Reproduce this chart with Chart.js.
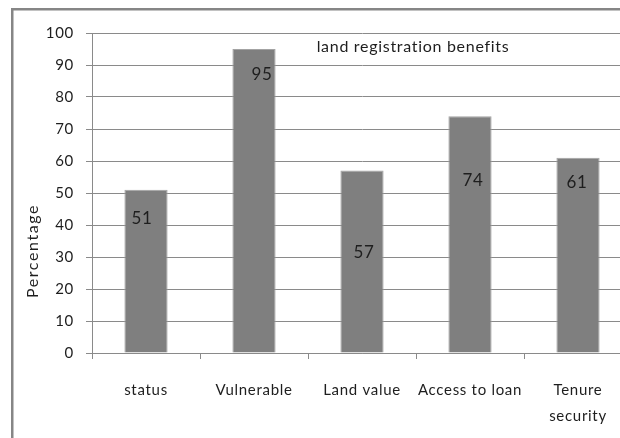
<!DOCTYPE html>
<html>
<head>
<meta charset="utf-8">
<script src="https://cdn.jsdelivr.net/npm/chart.js@4.4.1/dist/chart.umd.min.js"></script>
<style>
  html, body { margin: 0; padding: 0; background: #fff; overflow: hidden; }
  #wrap { width: 640px; height: 438px; }
</style>
</head>
<body>
<div id="wrap"><canvas id="benefitsChart" width="640" height="438"></canvas></div>
<script>
// ===== Data =====
const categories = ['status', 'Vulnerable', 'Land value', 'Access to loan', ['Tenure', 'security']];
const percentages = [51, 95, 57, 74, 61];
const yTicks = [0, 10, 20, 30, 40, 50, 60, 70, 80, 90, 100];

const gridGrey = '#8a8a8a';
const textColor = '#1e1e1e';

// frame, in-plot title, rotated axis title and the value labels
const decorations = {
  id: 'decorations',
  beforeDraw(chart) {
    const ctx = chart.ctx;
    ctx.letterSpacing = '0.7px';
    ctx.save();
    ctx.strokeStyle = '#868686';
    ctx.lineWidth = 2.5;
    ctx.strokeRect(12.25, 9.25, 700, 500);
    ctx.restore();
  },
  afterDatasetsDraw(chart, args, opts) {
    const ctx = chart.ctx;
    const y = chart.scales.y;
    const meta = chart.getDatasetMeta(0);
    ctx.save();
    ctx.fillStyle = textColor;
    ctx.textAlign = 'center';
    ctx.textBaseline = 'middle';

    ctx.font = '17px Lato';
    meta.data.forEach((bar, i) => {
      ctx.fillText(String(percentages[i]), bar.x + opts.dx[i], y.getPixelForValue(opts.at[i]));
    });

    ctx.font = '16px Lato';
    ctx.fillText('land registration benefits', 413, 47);

    ctx.translate(33, 251);
    ctx.rotate(-Math.PI / 2);
    ctx.font = '16px Lato';
    ctx.letterSpacing = '1.6px';
    ctx.fillText('Percentage', 0, 0);
    ctx.restore();
  }
};

const ctx = document.getElementById('benefitsChart').getContext('2d');
const benefitsChart = new Chart(ctx, {
  type: 'bar',
  data: {
    labels: categories,
    datasets: [{
      label: 'land registration benefits',
      data: percentages,
      backgroundColor: '#7f7f7f',
      borderColor: '#a3a3a3',
      borderWidth: 1,
      categoryPercentage: 1,
      barPercentage: 0.4
    }]
  },
  options: {
    responsive: false,
    animation: false,
    layout: { padding: { top: 33, right: 8, bottom: 0, left: 0 } },
    plugins: {
      legend: { display: false },
      tooltip: { enabled: false },
      decorations: {
        at: [42, 87, 31.3, 53.8, 53.4],
        dx: [-4, 8, 2, 3, -1]
      }
    },
    scales: {
      x: {
        afterFit(s) { s.height = 85; },
        grid: { offset: true, drawOnChartArea: false, drawTicks: true, tickLength: 6, color: gridGrey },
        border: { color: gridGrey },
        ticks: {
          color: textColor,
          font: { family: 'Lato', size: 15, lineHeight: 1.73 },
          padding: 18,
          maxRotation: 0,
          autoSkip: false
        }
      },
      y: {
        min: yTicks[0],
        max: yTicks[yTicks.length - 1],
        afterFit(s) { s.width = 92; },
        afterBuildTicks(s) { s.ticks = yTicks.map(v => ({ value: v })); },
        grid: { color: gridGrey, tickLength: 6 },
        border: { color: gridGrey },
        ticks: {
          color: textColor,
          font: { family: 'Lato', size: 15 },
          padding: 12
        }
      }
    }
  },
  plugins: [decorations]
});
</script>
</body>
</html>
